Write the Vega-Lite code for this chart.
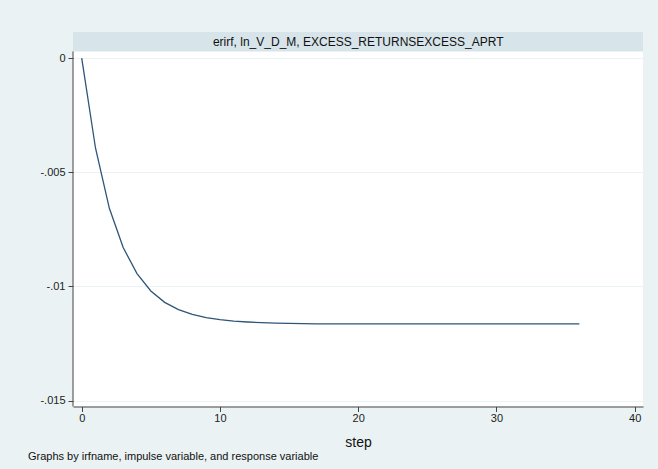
{
  "$schema": "https://vega.github.io/schema/vega-lite/v6.json",
  "width": 658,
  "height": 469,
  "autosize": {"type": "fit", "contains": "padding"},
  "padding": {"left": 27, "right": 15, "top": 32, "bottom": 6.5},
  "background": "#eaf2f3",
  "config": {
    "font": "Liberation Sans",
    "view": {"stroke": null, "fill": "#ffffff"},
    "axis": {"labelFont": "Liberation Sans", "titleFont": "Liberation Sans", "labelColor": "#222222", "titleColor": "#111111", "tickColor": "#444444", "domainColor": "#444444", "labelFontSize": 11}
  },
  "title": {
    "text": "Graphs by irfname, impulse variable, and response variable",
    "orient": "bottom",
    "anchor": "start",
    "frame": "bounds",
    "fontSize": 11,
    "fontWeight": "normal",
    "color": "#111111",
    "font": "Liberation Sans",
    "offset": 1.5,
    "dx": -12
  },
  "data": {
    "values": [
      {"step": 0, "irf": 0},
      {"step": 1, "irf": -0.00395},
      {"step": 2, "irf": -0.00658},
      {"step": 3, "irf": -0.0083},
      {"step": 4, "irf": -0.00944},
      {"step": 5, "irf": -0.0102},
      {"step": 6, "irf": -0.0107},
      {"step": 7, "irf": -0.01102},
      {"step": 8, "irf": -0.01123},
      {"step": 9, "irf": -0.01137},
      {"step": 10, "irf": -0.01146},
      {"step": 11, "irf": -0.01152},
      {"step": 12, "irf": -0.01156},
      {"step": 13, "irf": -0.01159},
      {"step": 14, "irf": -0.01161},
      {"step": 15, "irf": -0.01162},
      {"step": 16, "irf": -0.01163},
      {"step": 17, "irf": -0.01164},
      {"step": 18, "irf": -0.01164},
      {"step": 19, "irf": -0.01164},
      {"step": 20, "irf": -0.01164},
      {"step": 21, "irf": -0.01164},
      {"step": 22, "irf": -0.01164},
      {"step": 23, "irf": -0.01164},
      {"step": 24, "irf": -0.01164},
      {"step": 25, "irf": -0.01164},
      {"step": 26, "irf": -0.01164},
      {"step": 27, "irf": -0.01164},
      {"step": 28, "irf": -0.01164},
      {"step": 29, "irf": -0.01164},
      {"step": 30, "irf": -0.01164},
      {"step": 31, "irf": -0.01164},
      {"step": 32, "irf": -0.01164},
      {"step": 33, "irf": -0.01164},
      {"step": 34, "irf": -0.01164},
      {"step": 35, "irf": -0.01164},
      {"step": 36, "irf": -0.01164}
    ]
  },
  "layer": [
    {
      "data": {"values": [{"lo": 0.00029, "hi": 0.00114}]},
      "mark": {"type": "rect", "color": "#d7e4ea"},
      "encoding": {
        "y": {"field": "lo", "type": "quantitative", "scale": {"domain": [-0.01526, 0.00114], "nice": false, "zero": false}},
        "y2": {"field": "hi"}
      }
    },
    {
      "data": {"values": [{"label": "erirf, ln_V_D_M, EXCESS_RETURNSEXCESS_APRT", "x": 20, "y": 0.00071}]},
      "mark": {"type": "text", "font": "Liberation Sans", "fontSize": 12, "color": "#111111", "baseline": "middle", "align": "center"},
      "encoding": {
        "text": {"field": "label"},
        "x": {"field": "x", "type": "quantitative"},
        "y": {"field": "y", "type": "quantitative"}
      }
    },
    {
      "data": {"values": [{"x": -0.63, "lo": -0.01526, "hi": 0.00029}]},
      "mark": {"type": "rule", "color": "#444444", "strokeWidth": 1},
      "encoding": {
        "x": {"field": "x", "type": "quantitative"},
        "y": {"field": "lo", "type": "quantitative"},
        "y2": {"field": "hi"}
      }
    },
    {
      "mark": {"type": "line", "color": "#2f5577", "strokeWidth": 1.3},
      "encoding": {
        "x": {
          "field": "step", "type": "quantitative",
          "scale": {"domain": [-0.63, 40.6], "nice": false, "zero": false},
          "axis": {"values": [0, 10, 20, 30, 40], "grid": false, "title": "step", "titleFontSize": 14, "titleFontWeight": "normal", "titlePadding": 12, "tickSize": 5, "labelPadding": 1, "domainWidth": 1}
        },
        "y": {
          "field": "irf", "type": "quantitative",
          "axis": {"values": [0, -0.005, -0.01, -0.015], "title": null, "domain": false, "grid": true, "gridColor": "#eaf2f3", "gridWidth": 1, "tickSize": 5, "labelPadding": 3, "labelExpr": "replace(replace(format(datum.value, '.3~f'), '0.', '.'), '−', '-')"}
        }
      }
    }
  ]
}
